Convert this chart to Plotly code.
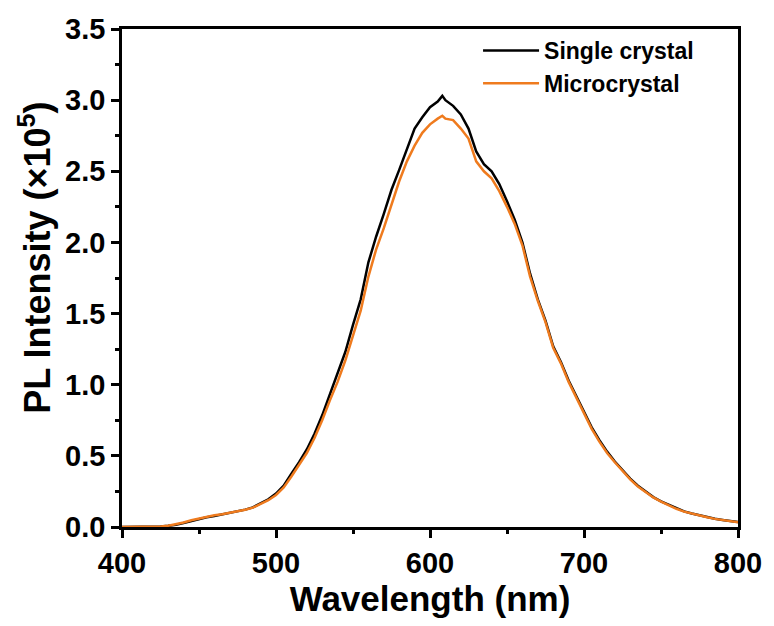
import plotly.graph_objects as go

wavelength = [400, 405, 410, 415, 420, 425, 430, 435, 440, 445, 450, 455, 460, 465, 470, 475,
              480, 485, 490, 495, 500, 505, 510, 515, 520, 525, 530, 535, 540, 545, 550, 555,
              560, 565, 570, 575, 580, 585, 590, 595, 600, 605, 608, 610, 615, 620, 625, 630,
              635, 640, 645, 650, 655, 660, 665, 670, 675, 680, 685, 690, 695, 700, 705, 710,
              715, 720, 725, 730, 735, 740, 745, 750, 755, 760, 765, 770, 775, 780, 785, 790,
              795, 800]

single_crystal = [0.000, 0.000, 0.000, 0.001, 0.002, 0.004, 0.008, 0.015, 0.028, 0.042, 0.055, 0.068,
                  0.078, 0.088, 0.098, 0.110, 0.122, 0.138, 0.165, 0.195, 0.235, 0.290, 0.375, 0.455,
                  0.545, 0.655, 0.785, 0.935, 1.07, 1.23, 1.42, 1.60, 1.86, 2.04, 2.20, 2.37,
                  2.51, 2.66, 2.80, 2.88, 2.95, 2.99, 3.03, 3.00, 2.96, 2.90, 2.80, 2.64,
                  2.55, 2.50, 2.41, 2.29, 2.16, 2.00, 1.78, 1.60, 1.45, 1.27, 1.16, 1.03,
                  0.92, 0.80, 0.70, 0.61, 0.53, 0.46, 0.40, 0.34, 0.29, 0.25, 0.21, 0.18,
                  0.155, 0.13, 0.11, 0.095, 0.082, 0.070, 0.058, 0.050, 0.042, 0.035]

microcrystal = [0.000, 0.000, 0.000, 0.001, 0.002, 0.004, 0.009, 0.018, 0.032, 0.047, 0.060, 0.072,
                0.082, 0.090, 0.099, 0.110, 0.121, 0.136, 0.160, 0.188, 0.225, 0.278, 0.355, 0.435,
                0.520, 0.625, 0.750, 0.890, 1.02, 1.17, 1.35, 1.52, 1.76, 1.95, 2.10, 2.27,
                2.43, 2.57, 2.68, 2.77, 2.83, 2.87, 2.89, 2.87, 2.86, 2.80, 2.73, 2.57,
                2.50, 2.45, 2.36, 2.25, 2.13, 1.98, 1.76, 1.59, 1.44, 1.26, 1.15, 1.02,
                0.91, 0.79, 0.69, 0.60, 0.52, 0.455, 0.395, 0.335, 0.285, 0.245, 0.208, 0.178,
                0.152, 0.128, 0.108, 0.093, 0.080, 0.068, 0.057, 0.049, 0.041, 0.034]

x_ticks = [400, 500, 600, 700, 800]
y_ticks = [0.0, 0.5, 1.0, 1.5, 2.0, 2.5, 3.0, 3.5]
x_title = "Wavelength (nm)"
y_title = "PL Intensity (×10<sup>5</sup>)"

FONT = "Liberation Sans, Arial, sans-serif"

fig = go.Figure()
fig.add_trace(go.Scatter(x=wavelength, y=single_crystal, mode="lines", name="Single crystal",
                         line=dict(color="#000000", width=2.5)))
fig.add_trace(go.Scatter(x=wavelength, y=microcrystal, mode="lines", name="Microcrystal",
                         line=dict(color="#EF7B1E", width=2.5)))

axis_common = dict(
    showline=True, linecolor="black", linewidth=2.5, mirror=True,
    ticks="outside", ticklen=8, tickwidth=2.5, tickcolor="black",
    showgrid=False, zeroline=False,
    tickfont=dict(family=FONT, size=29, color="black", weight="bold"),
)

fig.update_xaxes(range=[400, 800], tickvals=x_ticks, ticktext=[str(v) for v in x_ticks],
                 minor=dict(ticks="outside", ticklen=4, tickwidth=2.5, tickcolor="black", dtick=50),
                 title=dict(text=x_title, font=dict(family=FONT, size=35, color="black", weight="bold"),
                            standoff=8),
                 **axis_common)
fig.update_yaxes(range=[0, 3.5], tickvals=y_ticks, ticktext=[f"{v:.1f}" for v in y_ticks],
                 minor=dict(ticks="outside", ticklen=4, tickwidth=2.5, tickcolor="black", dtick=0.25),
                 **axis_common)

fig.add_annotation(text=y_title, textangle=-90, showarrow=False,
                   xref="paper", yref="paper", x=-0.1424, y=0.541,
                   xanchor="center", yanchor="middle",
                   font=dict(family=FONT, size=36, color="black", weight="bold"))

fig.update_layout(
    width=774, height=626,
    margin=dict(l=122, r=34, t=29, b=99),
    plot_bgcolor="white", paper_bgcolor="white",
    showlegend=True,
    legend=dict(x=0.578, y=1.0, xanchor="left", yanchor="top", bgcolor="rgba(0,0,0,0)",
                font=dict(family=FONT, size=23, color="black", weight="bold"),
                tracegroupgap=0, itemwidth=56),
)

fig.write_html("out.html")
